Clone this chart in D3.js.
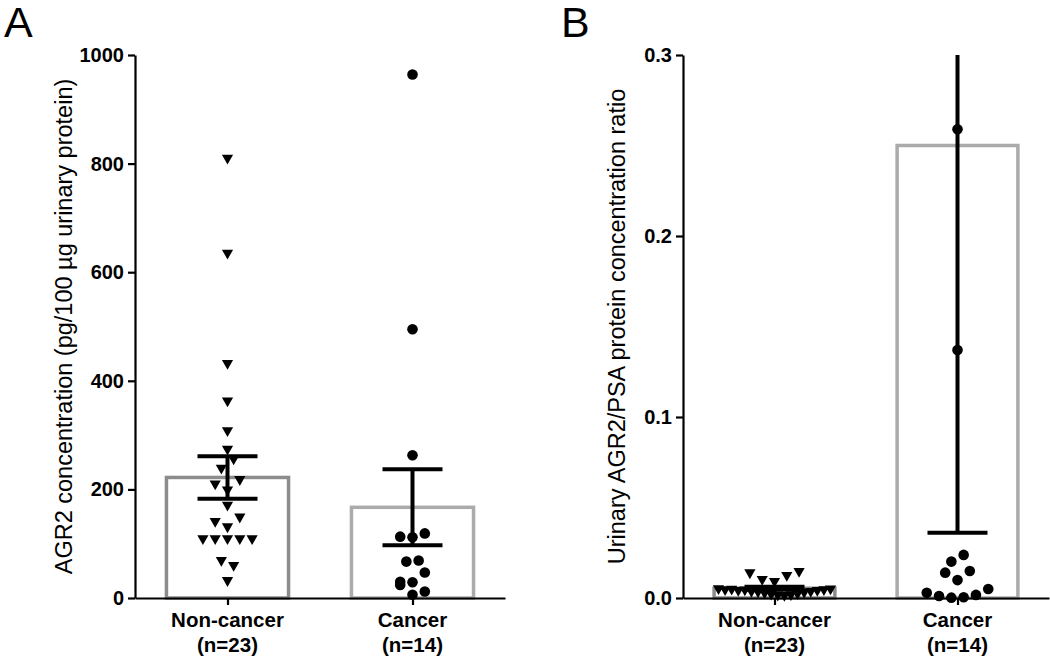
<!DOCTYPE html>
<html><head><meta charset="utf-8">
<script src="https://cdn.jsdelivr.net/npm/d3@7"></script>
<style>body{margin:0;background:#fff}svg{display:block}</style>
</head><body><svg id="c" width="1050" height="659"></svg>
<script>
// ---------- data ----------
const categories = ["Non-cancer", "Cancer"];
const nLabels = ["(n=23)", "(n=14)"];
// Panel A: AGR2 concentration (pg/100 µg urinary protein); order = left-to-right within a row
const agr2NonCancer = [808, 633, 430, 361, 306, 272, 237, 254, 208, 197, 216, 169, 139, 129, 147, 107, 107, 107, 107, 107, 67, 58, 30];
const agr2Cancer = [964, 495, 263, 113, 112, 119, 67, 69, 30, 29, 47, 24, 6, 12];
const agr2Mean = [222, 167];
const agr2Sem = [39, 70];
const agr2Ticks = [0, 200, 400, 600, 800, 1000];
// Panel B: urinary AGR2/PSA protein concentration ratio
const ratioNonCancer = [0.0045, 0.0040, 0.0042, 0.0035, 0.0038, 0.0030, 0.0133, 0.0028, 0.0022, 0.0096, 0.0015, 0.0010, 0.0085, 0.0008, 0.0012, 0.0118, 0.0018, 0.0025, 0.0140, 0.0030, 0.0036, 0.0040, 0.0044];
const ratioCancer = [0.259, 0.137, 0.0201, 0.0238, 0.014, 0.0099, 0.0149, 0.0029, 0.0011, 0.0002, 0.0004, 0.0017, 0.005];
const ratioMean = [0.0054, 0.25];
const ratioSem = [0.0008, 0.214];
const ratioTicks = [0, 0.1, 0.2, 0.3];

// ---------- drawing ----------
const svg = d3.select("#c");
const FONT = "'Liberation Sans', Arial, sans-serif";
const barStroke = ["#8c8c8c", "#ababab"];
const markers = ["triangle", "circle"];

function swarm(values, y, spacing, maxW, R) {
  const idx = values.map((v, i) => i).sort((a, b) => values[a] - values[b] || a - b);
  const rows = []; let cur = null, start = null;
  idx.forEach(i => {
    const py = y(values[i]);
    if (cur && start - py <= R) cur.push(i);
    else { cur = [i]; rows.push(cur); start = py; }
  });
  const off = new Array(values.length).fill(0);
  rows.forEach(r => {
    r.sort((a, b) => a - b);
    const n = r.length;
    const s = n > 1 ? Math.min(spacing, maxW / (n - 1)) : 0;
    r.forEach((i, k) => off[i] = (k - (n - 1) / 2) * s);
  });
  return off;
}

function panel(opt) {
  const g = svg.append("g");
  const y = d3.scaleLinear().domain(opt.domain).range([598, 55]);
  const x = d3.scalePoint().domain(categories).range([opt.x0, opt.x1]).padding(0.5);
  const bw = x.step() * 0.66;

  // bars
  g.selectAll("rect.bar").data(categories).join("rect")
    .attr("x", d => x(d) - bw / 2).attr("width", bw)
    .attr("y", (d, i) => y(opt.mean[i])).attr("height", (d, i) => y(0) - y(opt.mean[i]))
    .attr("fill", "none").attr("stroke", (d, i) => barStroke[i]).attr("stroke-width", 3.5);

  // error bars
  categories.forEach((c, i) => {
    const top = opt.mean[i] + opt.sem[i], bot = opt.mean[i] - opt.sem[i];
    const dmax = opt.domain[1];
    const eg = g.append("g").attr("stroke", "#000").attr("stroke-width", 4);
    eg.append("line").attr("x1", x(c)).attr("x2", x(c))
      .attr("y1", y(Math.max(bot, 0))).attr("y2", y(Math.min(top, dmax)));
    const capW = 60;
    [top, bot].forEach(v => {
      if (v <= dmax && v >= 0)
        eg.append("line").attr("x1", x(c) - capW / 2).attr("x2", x(c) + capW / 2)
          .attr("y1", y(v)).attr("y2", y(v));
    });
  });

  // points
  const tri = "M-5.6,-4.6L5.6,-4.6L0,5.2Z";
  opt.points.forEach((vals, i) => {
    const shown = vals.filter(v => v <= opt.domain[1]);
    const off = swarm(shown, y, 12.3, 112, 11.2);
    const cx = x(categories[i]);
    if (markers[i] === "triangle") {
      g.append("g").selectAll("path").data(shown).join("path")
        .attr("d", tri).attr("fill", "#000")
        .attr("transform", (d, k) => `translate(${cx + off[k]},${y(d)})`);
    } else {
      g.append("g").selectAll("circle").data(shown).join("circle")
        .attr("cx", (d, k) => cx + off[k]).attr("cy", d => y(d)).attr("r", 5.3).attr("fill", "#000");
    }
  });

  // y axis
  const ya = g.append("g").attr("transform", `translate(${opt.x0},0)`)
    .call(d3.axisLeft(y).tickValues(opt.ticks).tickFormat(opt.fmt).tickSize(7).tickSizeOuter(0).tickPadding(4));
  ya.select(".domain").attr("stroke-width", 2.2);
  ya.selectAll(".tick line").attr("stroke-width", 2.2);
  ya.selectAll(".tick text").attr("font-family", FONT).attr("font-size", 20).attr("font-weight", "bold").attr("fill", "#000");

  // x axis
  const xa = g.append("g").attr("transform", `translate(0,598)`)
    .call(d3.axisBottom(x).tickSize(7).tickSizeOuter(0).tickFormat(""));
  xa.select(".domain").attr("stroke-width", 2.2);
  xa.selectAll(".tick line").attr("stroke-width", 2.2);
  const lab = g.append("g").attr("font-family", FONT).attr("font-size", 20.5).attr("font-weight", "bold")
    .attr("text-anchor", "middle").attr("fill", "#000");
  categories.forEach((c, i) => {
    lab.append("text").attr("x", x(c)).attr("y", 627).text(c);
    lab.append("text").attr("x", x(c)).attr("y", 652).text(nLabels[i]);
  });

  // y title
  g.append("text").attr("transform", `translate(${opt.titleX},${(55 + 598) / 2}) rotate(-90)`)
    .attr("text-anchor", "middle").attr("font-family", FONT).attr("font-size", 23.5).attr("fill", "#000")
    .text(opt.title);

  // panel letter
  g.append("text").attr("x", opt.letterX).attr("y", 37).attr("font-family", FONT).attr("font-size", 43)
    .attr("fill", "#000").text(opt.letter);
}

panel({domain: [0, 1000], x0: 135, x1: 505, mean: agr2Mean, sem: agr2Sem,
  points: [agr2NonCancer, agr2Cancer], ticks: agr2Ticks, fmt: d3.format("d"),
  title: "AGR2 concentration (pg/100 \u00b5g urinary protein)", titleX: 72, letter: "A", letterX: 4});
panel({domain: [0, 0.3], x0: 683, x1: 1049, mean: ratioMean, sem: ratioSem,
  points: [ratioNonCancer, ratioCancer], ticks: ratioTicks, fmt: d3.format(".1f"),
  title: "Urinary AGR2/PSA protein concentration ratio", titleX: 625, letter: "B", letterX: 561});
</script></body></html>
